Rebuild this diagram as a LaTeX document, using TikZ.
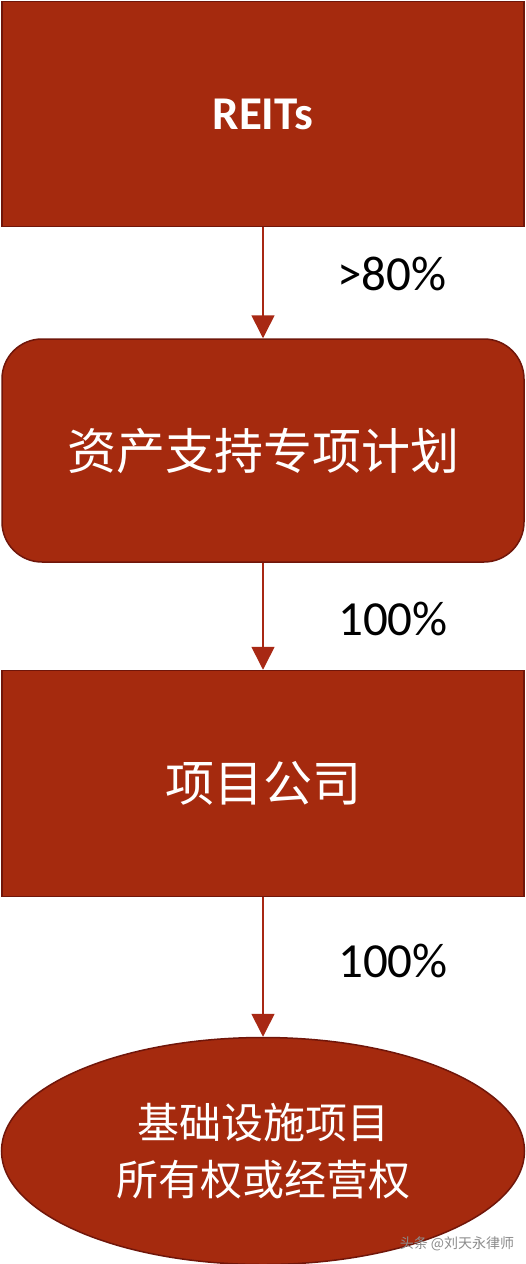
\documentclass[tikz,border=0pt]{standalone}
\usepackage{fontspec}
\setmainfont{Carlito}
\newfontfamily\cjk{Noto Sans CJK SC}
\usetikzlibrary{arrows.meta,shapes.geometric}

\definecolor{brickfill}{RGB}{165,42,14}
\definecolor{brickline}{RGB}{112,22,10}
\definecolor{flowline}{RGB}{168,40,20}

\tikzset{every picture/.style={line width=1.5pt}}
\tikzset{
  fundbox/.style={draw=brickline,fill=brickfill,text=white,minimum width=522pt,inner sep=0pt},
  flow/.style={draw=flowline,line width=1.6pt,-{Triangle[width=23pt,length=23pt,fill=flowline]}},
  share/.style={inner sep=0pt,font=\fontsize{49}{58}\selectfont}
}

\begin{document}
\begin{tikzpicture}[x=1pt,y=1pt,yscale=-1,xscale=1]
    \useasboundingbox (0,0) rectangle (526,1264);
    \fill[white] (0,0) rectangle (526,1264);
    
    %Shape: Rectangle [id:reits] 
    \node[fundbox,minimum height=225pt,font=\fontsize{47}{56}\selectfont\bfseries] (reits) at (263,114) {REITs};
    %Shape: Rounded Rect [id:plan] 
    \node[fundbox,rounded corners=40pt,minimum height=223pt,font=\cjk\fontsize{49}{58}\selectfont] (plan) at (263,450.5) {资产支持专项计划};
    %Shape: Rectangle [id:spv] 
    \node[fundbox,minimum height=226pt,font=\cjk\fontsize{49}{58}\selectfont] (spv) at (263,783.5) {项目公司};
    %Shape: Ellipse [id:asset] 
    \node[fundbox,ellipse,minimum width=523pt,minimum height=227pt,align=center,font=\cjk\fontsize{42}{57}\selectfont] (asset) at (263,1151) {基础设施项目\\所有权或经营权};
    
    %Straight Lines [id:flowa] 
    \draw[flow] (reits) -- (plan);
    %Straight Lines [id:flowb] 
    \draw[flow] (plan) -- (spv);
    %Straight Lines [id:flowc] 
    \draw[flow] (spv) -- (asset);
    
    % Text Node
    \node[share] (sharea) at (392,274) {>80\%};
    % Text Node
    \node[share] (shareb) at (393,619) {100\%};
    % Text Node
    \node[share] (sharec) at (393,961) {100\%};
    % Text Node
    \node[inner sep=0pt,text=black!45] (mark) at (457,1244) {\cjk\fontsize{14}{16}\selectfont 头条 @刘天永律师};
    
\end{tikzpicture}
\end{document}
